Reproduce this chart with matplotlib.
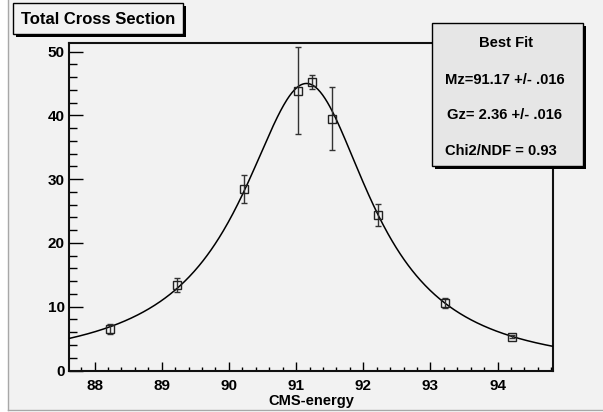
import numpy as np
import matplotlib
matplotlib.use("Agg")
import matplotlib.pyplot as plt
import matplotlib.patches as patches
from matplotlib.ticker import MultipleLocator

plt.rcParams['font.family'] = ['Liberation Sans', 'DejaVu Sans']
plt.rcParams['font.weight'] = 'bold'

# measured cross sections
energy = [88.23, 89.23, 90.23, 91.03, 91.23, 91.53, 92.22, 93.22, 94.22]
sigma = [6.5, 13.4, 28.5, 43.9, 45.3, 39.5, 24.4, 10.6, 5.3]
sigma_err = [0.8, 1.1, 2.2, 6.8, 1.1, 5.0, 1.7, 0.8, 0.2]

# fit result
mz = 91.17
mz_err = ".016"
gz = 2.36
gz_err = ".016"
peak = 45.0
chi2_ndf = 0.93

x_range = (87.62, 94.82)
y_range = (0, 51.4)

BG = '#f2f2f2'
W, H = 603, 412


def fx(x):
    return x / W


def fy(y):
    return 1 - y / H


def breit_wigner(e):
    s = e ** 2
    m2 = mz ** 2
    return peak * (m2 / s) * m2 * gz ** 2 / ((s - m2) ** 2 + m2 * gz ** 2)


def shadow_box(fig, x0, y0, x1, y1, face, off=3):
    shadow = patches.Rectangle((fx(x0 + off), fy(y1 + off)), (x1 - x0) / W, (y1 - y0) / H,
                               transform=fig.transFigure, facecolor='black',
                               edgecolor='none', zorder=4)
    box = patches.Rectangle((fx(x0), fy(y1)), (x1 - x0) / W, (y1 - y0) / H,
                            transform=fig.transFigure, facecolor=face,
                            edgecolor='black', linewidth=1, zorder=5)
    fig.patches.extend([shadow, box])


fig = plt.figure(figsize=(W / 100, H / 100), dpi=100)
fig.patch.set_facecolor('white')

# canvas panel with its thin border
panel = patches.Rectangle((fx(8), fy(410)), (W - 8) / W, 410 / H, transform=fig.transFigure,
                          facecolor=BG, edgecolor='none', zorder=-5)
fig.patches.append(panel)
fig.lines.append(plt.Line2D([fx(8), fx(8)], [fy(0), fy(410)], transform=fig.transFigure,
                            color='#a8a8a8', lw=1, zorder=-4))
fig.lines.append(plt.Line2D([fx(8), fx(W)], [fy(410), fy(410)], transform=fig.transFigure,
                            color='#a8a8a8', lw=1, zorder=-4))

ax = fig.add_axes([fx(69), fy(370.5), (552.7 - 69) / W, (370.5 - 42.7) / H])
ax.set_facecolor(BG)

e = np.linspace(x_range[0], x_range[1], 600)
ax.plot(e, breit_wigner(e), color='black', lw=1.1, zorder=3)

ax.errorbar(energy, sigma, yerr=sigma_err, fmt='s', ms=5.3, mfc='none', mec='#222222',
            mew=1, ecolor='#333333', elinewidth=1, capsize=2.5, capthick=1, zorder=4)

ax.set_xlim(*x_range)
ax.set_ylim(*y_range)

ax.xaxis.set_major_locator(MultipleLocator(1))
ax.xaxis.set_minor_locator(MultipleLocator(0.2))
ax.yaxis.set_major_locator(MultipleLocator(10))
ax.yaxis.set_minor_locator(MultipleLocator(2))

ax.tick_params(axis='x', which='major', direction='in', length=6.5, width=1, pad=6, labelsize=11)
ax.tick_params(axis='x', which='minor', direction='in', length=3, width=1)
ax.tick_params(axis='y', which='major', direction='in', length=10, width=1, pad=3, labelsize=11)
ax.tick_params(axis='y', which='minor', direction='in', length=5.5, width=1)
for lab in ax.get_xticklabels() + ax.get_yticklabels():
    lab.set_fontweight('bold')

for side in ['left', 'bottom', 'right', 'top']:
    ax.spines[side].set_linewidth(1.5)
    ax.spines[side].set_color('#111111')

ax.set_xlabel('CMS-energy', fontsize=10.5, fontweight='bold', labelpad=1)

# title pave
shadow_box(fig, 13, 3.3, 183, 34.3, BG)
fig.text(fx(98), fy(19), 'Total Cross Section', ha='center', va='center',
         fontsize=12, fontweight='bold', zorder=6)

# fit summary pave
shadow_box(fig, 431.7, 22.7, 583.3, 165.7, '#e6e6e6')
fig.text(fx(506), fy(42.7), 'Best Fit', ha='center', va='center', fontsize=10.6,
         fontweight='bold', zorder=6)
fig.text(fx(445), fy(80), f'Mz={mz:.2f} +/- {mz_err}', ha='left', va='center',
         fontsize=10.6, fontweight='bold', zorder=6)
fig.text(fx(447.3), fy(115), f'Gz= {gz:.2f} +/- {gz_err}', ha='left', va='center',
         fontsize=10.6, fontweight='bold', zorder=6)
fig.text(fx(445), fy(150.7), f'Chi2/NDF = {chi2_ndf:.2f}', ha='left', va='center',
         fontsize=10.6, fontweight='bold', zorder=6)

fig.savefig('out.png', dpi=100, facecolor=fig.get_facecolor())
